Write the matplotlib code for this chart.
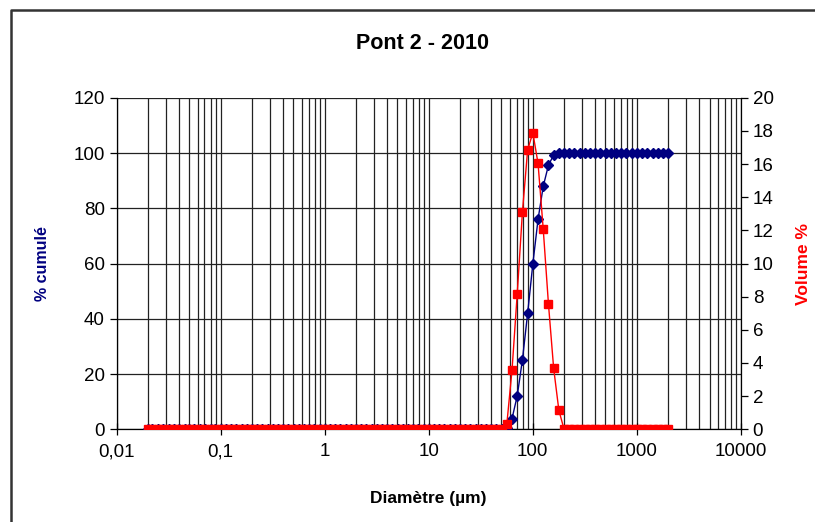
import matplotlib
matplotlib.use('Agg')
import matplotlib.pyplot as plt
from matplotlib.ticker import LogLocator, FixedLocator, FuncFormatter
from matplotlib.lines import Line2D

plt.rcParams['font.family'] = ['Liberation Sans', 'DejaVu Sans']

# Mastersizer size classes (µm)
diametre = [0.020, 0.022, 0.025, 0.028, 0.032, 0.036, 0.040, 0.045, 0.050, 0.056,
            0.063, 0.071, 0.080, 0.089, 0.100, 0.112, 0.126, 0.142, 0.159, 0.178,
            0.200, 0.224, 0.252, 0.283, 0.317, 0.356, 0.399, 0.448, 0.502, 0.564,
            0.632, 0.710, 0.796, 0.893, 1.002, 1.125, 1.262, 1.416, 1.589, 1.783,
            2.000, 2.244, 2.518, 2.825, 3.170, 3.557, 3.991, 4.477, 5.024, 5.637,
            6.325, 7.096, 7.962, 8.934, 10.024, 11.247, 12.619, 14.159, 15.887, 17.825,
            20.000, 22.440, 25.179, 28.251, 31.698, 35.566, 39.905, 44.774, 50.238, 56.368,
            63.246, 70.963, 79.621, 89.337, 100.237, 112.468, 126.191, 141.589, 158.866, 178.250,
            200.000, 224.404, 251.785, 282.508, 316.979, 355.656, 399.052, 447.744, 502.377, 563.677,
            632.456, 709.627, 796.214, 893.367, 1002.374, 1124.683, 1261.915, 1415.892, 1588.656, 1782.502,
            2000.000]

volume = [0.0] * 69 + [0.32, 3.58, 8.18, 13.12, 16.86, 17.89, 16.04, 12.06, 7.56, 3.68, 1.15] + [0.0] * 21
cumule = [0.0] * 69 + [0.3, 3.9, 12.1, 25.2, 42.0, 59.9, 76.0, 88.0, 95.6, 99.3, 100.0] + [100.0] * 21

left_ticks = [0, 20, 40, 60, 80, 100, 120]
right_ticks = [0, 2, 4, 6, 8, 10, 12, 14, 16, 18, 20]

fig = plt.figure(figsize=(8.15, 5.22), dpi=100)
# chart area border: only top and left edges show in the picture
fig.lines.append(Line2D([0.0141, 0.0141, 1.0], [0.0, 0.981, 0.981], transform=fig.transFigure,
                        color='#333333', linewidth=1.8))

ax = fig.add_axes([0.143, 0.1776, 0.766, 0.635])
ax.set_xscale('log')
ax.set_xlim(0.01, 10000)
ax.set_ylim(0, 120)
ax.set_yticks(left_ticks)

def fmt(v, pos):
    s = ('%g' % v) if v < 1 else '%d' % round(v)
    return s.replace('.', ',')

ax.xaxis.set_major_locator(FixedLocator([0.01, 0.1, 1, 10, 100, 1000, 10000]))
ax.xaxis.set_major_formatter(FuncFormatter(fmt))
ax.xaxis.set_minor_locator(LogLocator(base=10, subs=range(2, 10), numticks=20))
ax.grid(True, which='major', axis='both', color='#222222', linewidth=0.9)
ax.grid(True, which='minor', axis='x', color='#222222', linewidth=0.9)
ax.set_axisbelow(True)

for s in ['top', 'right']:
    ax.spines[s].set_visible(False)
ax.spines['left'].set_linewidth(0.9)
ax.spines['bottom'].set_linewidth(0.9)

ax.tick_params(axis='y', direction='out', length=5, labelsize=13.5, width=0.9)
ax.tick_params(axis='x', which='major', direction='inout', length=8, labelsize=13.5, width=0.9, pad=6)
ax.tick_params(axis='x', which='minor', length=0)

ax.plot(diametre, cumule, color='#000080', marker='D', markersize=5, linewidth=1, zorder=3)
ax.set_ylabel('% cumulé', color='#000080', fontsize=11.5, fontweight='bold', labelpad=17)
ax.set_xlabel('Diamètre (µm)', fontsize=12.5, fontweight='bold', labelpad=22)
ax.set_title('Pont 2 - 2010', fontsize=15.5, fontweight='bold', pad=35, x=0.49)

ax2 = ax.twinx()
ax2.set_ylim(0, 20)
ax2.set_yticks(right_ticks)
ax2.plot(diametre, volume, color='#FF0000', marker='s', markersize=5.5, linewidth=1, zorder=4)
for s in ['top', 'left', 'bottom']:
    ax2.spines[s].set_visible(False)
ax2.spines['right'].set_linewidth(0.9)
ax2.tick_params(axis='y', direction='out', length=5, labelsize=13.5, width=0.9)
ax2.set_ylabel('Volume %', color='#FF0000', fontsize=12.5, fontweight='bold', labelpad=16)

fig.savefig('out.png', dpi=100)
